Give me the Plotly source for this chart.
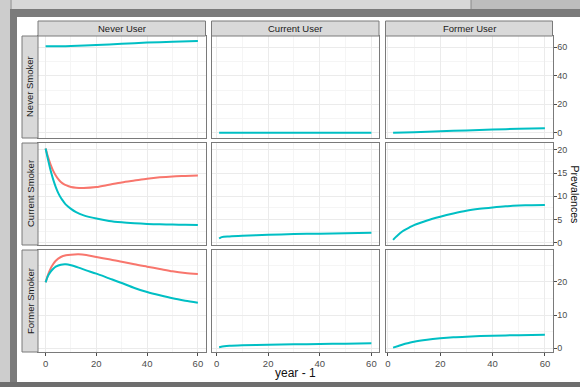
import plotly.graph_objects as go

# ---------------- data ----------------
col_labels = ["Never User", "Current User", "Former User"]
row_labels = ["Never Smoker", "Current Smoker", "Former Smoker"]
x_title = "year - 1"
y_title = "Prevalences"

# Never Smoker row
ns_nu_x = [0, 5, 10, 20, 30, 40, 50, 60]
ns_nu_teal = [60.5, 60.5, 60.7, 61.4, 62.3, 63.1, 63.7, 64.2]
ns_cu_x = [1, 10, 20, 30, 40, 50, 60]
ns_cu_teal = [0.1, 0.1, 0.1, 0.1, 0.1, 0.1, 0.1]
ns_fu_x = [2, 10, 20, 30, 40, 50, 60]
ns_fu_teal = [0.2, 0.6, 1.2, 1.8, 2.4, 2.9, 3.3]

# Current Smoker row
cs_nu_x = [0, 1, 2, 3, 4, 5, 6, 7, 8, 10, 12, 15, 20, 25, 30, 35, 40, 45, 50, 55, 60]
cs_nu_teal = [20.3, 17.8, 15.5, 13.6, 12.0, 10.7, 9.7, 8.9, 8.2, 7.3, 6.6, 5.9, 5.2, 4.7,
              4.4, 4.2, 4.05, 3.95, 3.9, 3.85, 3.8]
cs_nu_red = [20.3, 18.4, 16.8, 15.5, 14.5, 13.7, 13.1, 12.7, 12.4, 12.0, 11.85, 11.8, 12.0,
             12.5, 13.0, 13.4, 13.8, 14.1, 14.3, 14.4, 14.5]
cs_cu_x = [1, 2, 5, 10, 20, 30, 40, 50, 60]
cs_cu_teal = [0.9, 1.2, 1.35, 1.5, 1.7, 1.85, 1.95, 2.05, 2.15]
cs_fu_x = [2, 3, 4, 5, 6, 8, 10, 15, 20, 25, 30, 35, 40, 45, 50, 55, 60]
cs_fu_teal = [0.6, 1.2, 1.7, 2.2, 2.6, 3.2, 3.8, 4.8, 5.6, 6.3, 6.9, 7.3, 7.6, 7.85, 8.0,
              8.1, 8.15]

# Former Smoker row
fs_nu_x = [0, 1, 2, 3, 4, 6, 8, 10, 13, 16, 20, 25, 30, 35, 40, 45, 50, 55, 60]
fs_nu_teal = [19.8, 21.8, 23.0, 23.9, 24.5, 25.1, 25.2, 24.9, 24.2, 23.4, 22.4, 21.0, 19.6,
              18.1, 16.9, 15.9, 15.0, 14.3, 13.7]
fs_nu_red = [19.8, 22.2, 24.0, 25.3, 26.3, 27.4, 27.9, 28.1, 28.2, 28.0, 27.4, 26.7, 26.0,
             25.2, 24.5, 23.8, 23.1, 22.6, 22.3]
fs_cu_x = [1, 3, 5, 10, 20, 30, 40, 50, 60]
fs_cu_teal = [0.3, 0.6, 0.75, 0.9, 1.05, 1.2, 1.3, 1.4, 1.5]
fs_fu_x = [2, 4, 6, 8, 10, 15, 20, 25, 30, 40, 50, 60]
fs_fu_teal = [0.2, 0.7, 1.2, 1.6, 2.0, 2.6, 3.0, 3.3, 3.5, 3.8, 3.95, 4.05]

row_y_ranges = [[-3.5, 67.7], [-0.5, 21.5], [-1.1, 29.5]]
row_y_dtick = [20, 5, 10]
col_x_ranges = [[-3.0, 63.0], [-1.95, 62.95], [-0.9, 62.9]]
x_dtick = 20

# ---------------- layout helpers ----------------
W, H = 580, 387
TEAL = "#00BFC4"
RED = "#F8766D"
BORDER = "#7a7a7a"
FONT = "Liberation Sans, Arial, sans-serif"


def fx(p):
    return p / W


def fy(p):
    return 1 - p / H


col_px = [(38, 205.5), (211.5, 379), (385.5, 552.5)]
row_px = [(36, 138), (143, 245), (250, 352)]

panels = [
    (0, 0, ns_nu_x, ns_nu_teal, None),
    (0, 1, ns_cu_x, ns_cu_teal, None),
    (0, 2, ns_fu_x, ns_fu_teal, None),
    (1, 0, cs_nu_x, cs_nu_teal, cs_nu_red),
    (1, 1, cs_cu_x, cs_cu_teal, None),
    (1, 2, cs_fu_x, cs_fu_teal, None),
    (2, 0, fs_nu_x, fs_nu_teal, fs_nu_red),
    (2, 1, fs_cu_x, fs_cu_teal, None),
    (2, 2, fs_fu_x, fs_fu_teal, None),
]

fig = go.Figure()
layout_axes = {}
for r, c, xs, teal, red in panels:
    i = r * 3 + c + 1
    xa = "x" if i == 1 else f"x{i}"
    ya = "y" if i == 1 else f"y{i}"
    if red is not None:
        fig.add_trace(go.Scatter(x=xs, y=red, mode="lines", xaxis=xa, yaxis=ya,
                                 line=dict(color=RED, width=2, shape="spline", smoothing=0.8),
                                 showlegend=False, hoverinfo="skip"))
    fig.add_trace(go.Scatter(x=xs, y=teal, mode="lines", xaxis=xa, yaxis=ya,
                             line=dict(color=TEAL, width=2, shape="spline", smoothing=0.8),
                             showlegend=False, hoverinfo="skip"))

    x0, x1 = col_px[c]
    y0, y1 = row_px[r]
    xkey = "xaxis" if i == 1 else f"xaxis{i}"
    ykey = "yaxis" if i == 1 else f"yaxis{i}"
    bottom = r == 2
    right = c == 2
    layout_axes[xkey] = dict(
        domain=[fx(x0), fx(x1)], anchor=ya, range=col_x_ranges[c], automargin=False,
        tick0=0, dtick=x_dtick, showgrid=True, gridcolor="#ebebeb", gridwidth=1,
        minor=dict(dtick=x_dtick / 2, tick0=0, showgrid=True, gridcolor="#f5f5f5", gridwidth=0.6),
        zeroline=False, showline=True, linecolor=BORDER, linewidth=1, mirror=True,
        ticks="outside" if bottom else "", ticklen=3, tickcolor="#4d4d4d",
        showticklabels=bottom, tickfont=dict(size=9.5, color="#4d4d4d", family=FONT),
        fixedrange=True,
    )
    dt = row_y_dtick[r]
    layout_axes[ykey] = dict(
        domain=[fy(y1), fy(y0)], anchor=xa, range=row_y_ranges[r], side="right",
        automargin=False,
        tick0=0, dtick=dt, showgrid=True, gridcolor="#ebebeb", gridwidth=1,
        minor=dict(dtick=dt / 2, tick0=0, showgrid=True, gridcolor="#f5f5f5", gridwidth=0.6),
        zeroline=False, showline=True, linecolor=BORDER, linewidth=1, mirror=True,
        ticks="outside" if right else "", ticklen=3, tickcolor="#4d4d4d",
        ticklabelstandoff=-1,
        showticklabels=right, tickfont=dict(size=9, color="#4d4d4d", family=FONT),
        fixedrange=True,
    )

shapes = []
annotations = []


def rect(x0, y0, x1, y1, fill, line=None, layer="below"):
    d = dict(type="rect", xref="paper", yref="paper", x0=fx(x0), x1=fx(x1),
             y0=fy(y1), y1=fy(y0), fillcolor=fill, layer=layer,
             line=dict(width=1 if line else 0, color=line or fill))
    shapes.append(d)


# screenshot frame
rect(0, 0, 580, 9, "#d8d8d8")
rect(471, 0, 580, 9, "#bdbdbd")
rect(0, 0, 10, 387, "#cdcdcd")
rect(10, 9, 580, 17, "#7b7b7b")
rect(10, 9, 17, 387, "#7b7b7b")
rect(0, 382, 580, 387, "#6e6e6e")
shapes.append(dict(type="line", xref="paper", yref="paper", x0=fx(471), x1=fx(471),
                   y0=fy(9), y1=fy(0), line=dict(color="#8a8a8a", width=1), layer="below"))
shapes.append(dict(type="line", xref="paper", yref="paper", x0=fx(11), x1=fx(11),
                   y0=fy(9), y1=fy(0), line=dict(color="#8a8a8a", width=1), layer="below"))

# column strips
for c, lab in enumerate(col_labels):
    x0, x1 = col_px[c]
    rect(x0, 21, x1, 36, "#d9d9d9", BORDER, layer="above")
    annotations.append(dict(text=lab, xref="paper", yref="paper", x=fx((x0 + x1) / 2),
                            y=fy(28.5), showarrow=False, xanchor="center", yanchor="middle",
                            font=dict(size=9.5, color="#1a1a1a", family=FONT)))
# row strips
for r, lab in enumerate(row_labels):
    y0, y1 = row_px[r]
    rect(22, y0, 38, y1, "#d9d9d9", BORDER, layer="above")
    annotations.append(dict(text=lab, xref="paper", yref="paper", x=fx(30),
                            y=fy((y0 + y1) / 2), showarrow=False, textangle=-90,
                            xanchor="center", yanchor="middle",
                            font=dict(size=9.5, color="#1a1a1a", family=FONT)))

annotations.append(dict(text=x_title, xref="paper", yref="paper", x=fx(295), y=fy(373),
                        showarrow=False, xanchor="center", yanchor="middle",
                        font=dict(size=12, color="#111111", family=FONT)))
annotations.append(dict(text=y_title, xref="paper", yref="paper", x=fx(574.5), y=fy(194),
                        showarrow=False, textangle=90, xanchor="center", yanchor="middle",
                        font=dict(size=10.5, color="#111111", family=FONT)))

fig.update_layout(
    width=W, height=H, margin=dict(l=0, r=0, t=0, b=0, autoexpand=False),
    paper_bgcolor="white", plot_bgcolor="white",
    shapes=shapes, annotations=annotations, showlegend=False,
    font=dict(family=FONT),
    **layout_axes,
)

fig.write_html(
    "out.html",
    config={"displayModeBar": False},
    post_script="document.body.style.margin='0px';document.body.style.overflow='hidden';",
)
